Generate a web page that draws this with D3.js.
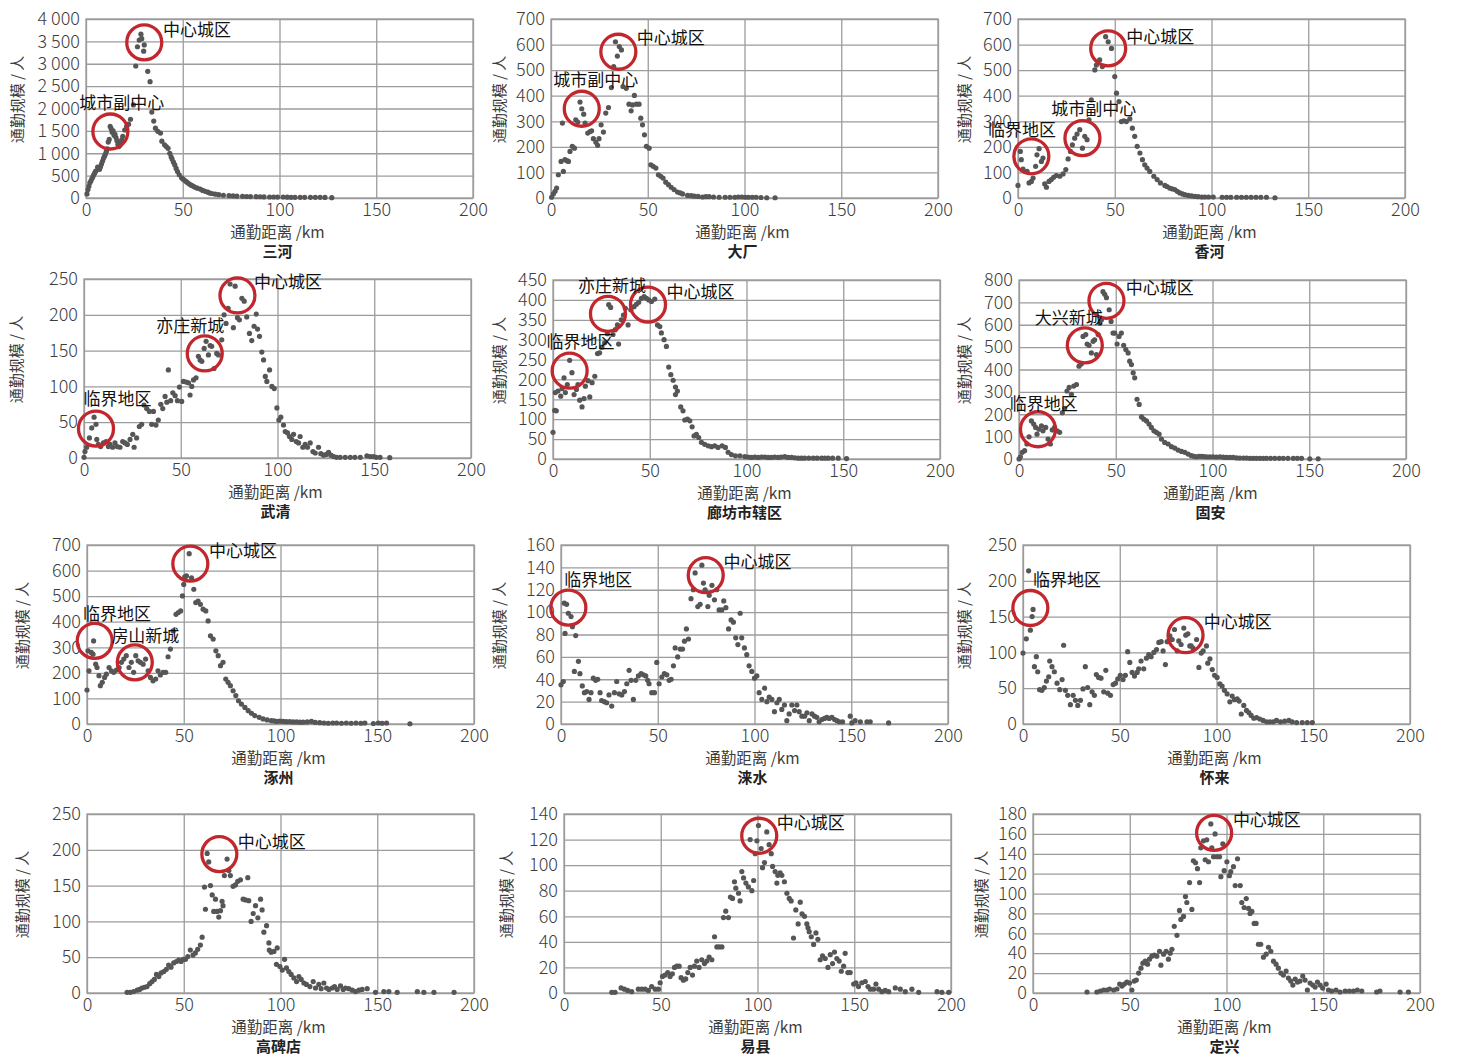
<!DOCTYPE html>
<html>
<head>
<meta charset="utf-8">
<script src="https://cdn.jsdelivr.net/npm/d3@7"></script>
<style>
body { margin: 0; background: #fff; }
svg text { font-family: "Noto Sans CJK SC", "Noto Sans", sans-serif; }
.tick line { stroke: #9c9c9c; stroke-width: 1.3; }
.tick text { font-size: 18px; fill: #3d3d3d; font-weight: 300; }
</style>
</head>
<body>
<svg id="chart" width="1457" height="1058"></svg>
<script>
// commute distance (km) vs commute size (persons), one array per district
const sanhe = [[0.5,90],[1,190],[1.5,260],[2,340],[2.5,380],[3,430],[3.5,470],[4,520],[4.5,560],[5,600],[6,690],[6.5,650],[7,640],[7.5,700],[8,760],[8.5,820],[9,880],[9.5,930],[10,980],[10.5,1040],[11,1100],[11.5,1250],[12,1310],[12.5,1600],[13,1550],[13.5,1470],[14,1500],[14.5,1400],[15,1420],[15.5,1350],[16,1280],[16.5,1200],[17,1150],[17.5,1180],[18,1250],[18.5,1300],[19,1380],[20,1520],[21,1600],[22,1650],[23,1760],[24.5,2080],[25.7,2950],[26.6,3380],[27.5,3530],[28.4,3660],[28.8,3560],[29.8,3280],[30.1,3420],[31.9,2830],[33.1,2600],[34,1920],[35,1720],[35.9,1560],[37.1,1490],[38.5,1450],[39.2,1270],[40.6,1190],[41.5,1150],[42.4,1110],[43.3,1000],[44,920],[44.5,870],[45.2,800],[45.9,740],[46.6,660],[47.3,590],[48.2,520],[49.4,450],[50.2,420],[51.1,390],[52,360],[52.9,330],[53.8,300],[54.6,280],[55.5,260],[56.4,240],[57.5,220],[59,200],[60.3,170],[61.6,150],[63,130],[64,110],[65.1,100],[66.8,85],[68.6,75],[71,62],[73.9,52],[76,46],[78,40],[80.9,37],[83,34],[85,32],[87.9,30],[90,28],[92,25],[94.9,22],[97,22],[99,20],[101.9,22],[104,18],[106,16],[108,15],[110.7,15],[113,14],[116,15],[118.5,14],[121,15],[123.5,12],[127,8]];
const dachang = [[0.3,3],[1.2,16],[2.1,26],[2.9,39],[3.8,91],[5.2,143],[5.9,293],[6.4,104],[7.2,150],[8.2,146],[9,143],[9.8,182],[11,202],[12.1,195],[12.8,306],[13.8,297],[15,375],[15.9,349],[16.9,328],[17.6,293],[19,254],[20.2,260],[21,263],[21.9,232],[23.2,218],[24.1,206],[24.8,232],[25.9,286],[27.1,258],[28.3,332],[29.7,354],[31.2,432],[32.4,514],[33.3,611],[34.3,555],[35.3,592],[36.4,579],[37.2,436],[38.9,429],[40.3,367],[41.4,341],[42.1,364],[43.1,401],[44.1,367],[45.5,367],[46.4,312],[47.3,286],[48.3,247],[49.3,202],[50.7,195],[51.6,130],[52.8,124],[54.2,117],[55.5,91],[56.7,85],[57.9,78],[59.3,62],[60.7,52],[62.1,42],[63.6,33],[65.4,23],[66.8,20],[68,16],[70.6,10],[72.5,9],[74,7],[76,6],[78.3,4],[80,5],[81.7,5],[84,4],[86.9,3],[90,3],[92.5,3],[95,3],[96.8,4],[98.6,4],[100.3,3],[102,3],[104,3],[106,3],[108.5,2],[111.5,1],[115.8,1]];
const xianghe = [[0,49],[1.2,182],[1.7,150],[2.6,113],[4.7,104],[5.7,59],[6.9,65],[7.8,78],[9.1,124],[9.8,169],[10.9,193],[12.1,143],[12.9,156],[13.8,55],[14.7,42],[16,65],[17.2,72],[18.4,81],[19.8,88],[21.6,85],[23.3,94],[24.7,111],[25.9,153],[27.1,182],[28.1,208],[29.3,234],[30.5,250],[31.9,267],[33.3,195],[34.5,241],[35.7,228],[36.7,306],[37.9,384],[39.7,501],[40.5,520],[42.2,540],[43.6,514],[45.3,631],[46.6,611],[48.3,585],[50,475],[50.9,410],[52.2,377],[53.4,299],[54.7,302],[56,299],[57.8,310],[59.1,273],[60.3,241],[61.6,202],[63,176],[64.3,150],[65.5,130],[66.7,117],[68.1,104],[70.2,85],[71.9,72],[73.6,59],[75.9,49],[77,45],[78.4,39],[79.6,36],[81,33],[82.3,26],[83.6,20],[85,16],[86.2,13],[88,10],[89.7,8],[91.5,6],[93.1,5],[95,4],[96.6,4],[98.5,4],[100.9,4],[105.5,3],[107.8,3],[110,3],[113,3],[115.5,3],[118,3],[120.5,3],[123,3],[125.5,3],[128.4,3],[132.8,1]];
const wuqing = [[0,1],[0.5,9],[1.4,15],[2.8,28],[4,42],[5.2,57],[6.2,47],[6.6,26],[7.4,19],[8.6,16],[10,21],[11.4,23],[12.6,16],[13.4,19],[14.8,15],[16,21],[17.2,16],[18.6,15],[20,23],[21.2,21],[22.4,19],[23.8,26],[25.2,33],[25.9,15],[27.2,28],[28.6,44],[29.8,47],[31,74],[32.4,69],[33.8,65],[35,47],[35.9,65],[37.2,46],[38.4,53],[39.7,75],[40.7,69],[41.9,86],[42.8,78],[43.6,123],[44.8,80],[45.9,91],[47.1,87],[48.3,80],[49.3,99],[50.5,79],[51.4,107],[52.8,106],[54,105],[54.8,88],[55.7,100],[56.6,109],[57.9,112],[59.1,142],[60,137],[60.9,135],[62.1,153],[63.1,163],[64.3,144],[65.2,157],[66,156],[67.2,125],[68.6,146],[69.5,144],[71.2,165],[72.4,200],[73.4,188],[74.5,209],[75.5,243],[77.2,182],[78.1,240],[79.3,196],[80.3,193],[81.6,223],[82.8,219],[84.1,197],[85.5,174],[86.7,164],[87.9,184],[89,201],[89.7,180],[90.7,170],[91.9,148],[92.8,137],[93.7,114],[94.5,107],[95.9,123],[97.1,100],[98.3,97],[99.7,70],[100.7,53],[101.7,57],[103.1,46],[104,37],[105.2,35],[106.2,30],[107.4,26],[108.3,33],[109.7,23],[110.9,21],[111.7,30],[113.1,15],[114.3,19],[115.5,15],[116.9,21],[118.3,9],[119.5,7],[121.2,15],[122.4,6],[123.8,4],[125.2,5],[126.4,8],[127.6,4],[129,2],[130.5,1],[132.4,1],[135,1],[137.6,1],[140,1],[142.8,1],[146.2,3],[148,2],[149.7,2],[151,1],[153,1],[158,0.5]];
const langfang = [[0,67],[0.9,122],[1.2,167],[1.7,121],[2.6,171],[4,158],[4.7,177],[5.7,204],[6.4,167],[7.4,187],[8.6,248],[9.8,217],[10.9,162],[12.1,175],[12.9,187],[13.8,148],[15,131],[16,152],[16.7,183],[18.1,197],[19,156],[20.2,192],[21.6,208],[23,265],[24.1,267],[25.3,281],[26.7,292],[28.1,315],[28.8,388],[29.8,381],[31,313],[32.2,325],[33.3,337],[33.9,289],[35.3,350],[36.4,362],[37.4,379],[38.8,337],[40.2,375],[41.9,383],[43.1,389],[44.3,394],[45.7,404],[47.1,408],[48.3,404],[49.5,400],[50.9,396],[52.6,402],[54,337],[55.2,333],[56,317],[57.4,300],[58.6,283],[59.8,231],[60.9,212],[62.1,198],[63.3,181],[63.3,162],[64.3,171],[66,131],[67.2,121],[68.1,98],[69.5,100],[70.7,96],[71.9,81],[72.9,58],[74.1,62],[75.3,54],[76.7,42],[78.4,37],[80.2,33],[81.9,31],[83.6,33],[85.3,29],[87.4,33],[89.1,29],[90.5,17],[92.2,11],[94.3,8],[96.6,8],[99.1,6],[100.8,5],[102.6,4],[104.3,5],[106,4],[107.8,5],[109.5,5],[111.2,4],[112.9,4],[114.6,5],[116.4,4],[118,5],[119.8,6],[121.5,4],[123.3,4],[125,3],[126.7,2],[128.4,2],[130,2],[132.2,2],[134.5,2],[136.5,2],[138.8,2],[140.5,2],[142.2,2],[144.5,2],[147.4,2],[151.7,1]];
const guan = [[0,0],[0.7,10],[1.7,30],[2.9,37],[4.1,67],[5.2,99],[6.4,170],[7.6,156],[8.6,141],[9.3,111],[10.3,133],[11.6,148],[12.4,126],[13.8,141],[15,89],[16.2,67],[17.2,130],[18.4,141],[19.7,126],[21,119],[22.4,207],[23.6,226],[24.8,304],[25.9,320],[27.1,289],[28.3,326],[29.7,333],[31,415],[32.2,425],[33.1,548],[34.5,556],[35.2,514],[36.2,508],[37.4,474],[38.3,526],[39.1,533],[40,467],[40.9,556],[41.7,607],[42.6,622],[43.4,748],[44.3,736],[45.2,721],[46.6,667],[47.6,615],[48.6,563],[49.5,563],[50.7,514],[51.7,548],[52.9,563],[54.1,508],[55.2,489],[56.4,474],[57.2,437],[58.1,422],[59,385],[59.8,363],[61,267],[62.1,244],[63.3,188],[64.5,178],[65.9,170],[67.2,156],[68.4,141],[69.7,126],[71,119],[72.4,111],[73.6,89],[75.3,74],[77.1,67],[78.8,55],[80.5,49],[82.2,40],[84,34],[85.7,30],[87.4,22],[89.1,15],[90.4,12],[91.7,10],[93,12],[94.3,12],[95.6,11],[96.9,10],[98.6,10],[100.3,10],[102,9],[103.8,10],[105.5,8],[107.2,7],[109,7],[110.7,7],[112.4,5],[114.1,4],[116,4],[117.6,4],[119.3,3],[121,3],[122.7,3],[124.5,3],[126.2,3],[127.9,3],[130,3],[132.2,3],[134.5,3],[136.6,3],[139,3],[141.7,3],[143.8,3],[146,3],[150.3,1],[154.6,1]];
const zhuozhou = [[0,133],[0.5,286],[1,208],[2.2,280],[3.1,273],[3.4,325],[4.5,234],[5.2,221],[6.2,189],[6.9,150],[7.9,163],[9.1,182],[10,195],[11.4,221],[12.6,208],[13.8,202],[15.2,211],[16.6,221],[17.8,241],[19,254],[20.3,267],[21.7,221],[22.9,241],[24.1,202],[25.2,267],[26.4,247],[27.6,241],[29,234],[30.3,254],[31.6,208],[32.8,182],[34.1,169],[35.5,176],[36.7,208],[37.9,192],[39.3,202],[40.7,202],[41.9,263],[43.1,293],[44.5,364],[46,429],[47.2,436],[48.4,442],[49.3,501],[50,546],[50.5,575],[51.4,579],[52.8,666],[54,572],[55.2,527],[56.2,475],[57.4,481],[58.6,468],[60,449],[61.4,442],[62.6,403],[63.8,345],[65.2,332],[66.6,286],[67.8,267],[69,228],[70.3,241],[71.7,176],[72.9,163],[74.1,150],[75.5,130],[76.9,111],[78.3,91],[79.8,78],[81.6,65],[83.3,52],[85,42],[86.7,33],[89,26],[91,20],[93.1,16],[95.3,13],[96.6,12],[98,10],[99.7,11],[101.4,10],[103,9],[104.8,9],[106.5,8],[108.3,8],[110,7],[111.7,7],[113.8,8],[116,10],[118,6],[120.3,5],[122.5,4],[124.7,3],[127,4],[129,4],[131.5,3],[134,4],[136.5,3],[139,4],[141.5,3],[143.6,4],[148,2],[150.5,4],[152.5,3],[154.8,4],[166.9,1]];
const laishui = [[0,35],[1.2,38],[1.7,108],[2.1,81],[2.9,107],[3.8,99],[5.2,96],[5.9,87],[6.9,47],[7.6,79],[9,56],[9.8,45],[11,34],[12.1,28],[13.3,29],[14.5,22],[15.5,28],[16.7,41],[17.9,39],[19,40],[20.2,28],[21,21],[22.4,20],[23.6,19],[24.8,26],[26.2,16],[27.6,28],[28.8,38],[30,27],[31.4,26],[32.8,29],[34,36],[35.2,48],[36.2,39],[37.4,22],[38.6,39],[40,43],[41.4,45],[42.6,44],[43.8,43],[44.8,39],[45.5,36],[46.9,28],[48.3,28],[49.5,55],[50.7,36],[52.1,42],[53.4,45],[54.7,44],[55.9,39],[56.9,40],[58.1,52],[59,68],[60.3,60],[61.6,67],[62.8,67],[63.8,74],[64.8,85],[65.9,76],[67.2,112],[68.4,120],[69.3,135],[70.7,105],[71.9,107],[72.8,142],[73.6,126],[74.5,120],[75.9,105],[76.6,115],[78,124],[79.3,111],[80.5,120],[81.7,102],[83.1,102],[84.1,110],[85.2,104],[86.6,85],[87.9,93],[89.1,91],[90.3,77],[91.4,71],[92.6,99],[93.4,77],[94.8,68],[96,62],[97.2,52],[98.6,47],[100,41],[101.2,43],[102.4,28],[103.8,22],[105.2,32],[106.4,20],[107.6,24],[109,22],[110.3,11],[111.6,19],[112.8,22],[114.1,13],[115.5,17],[116.7,3],[117.9,9],[119.3,17],[120.7,12],[121.9,17],[123.1,11],[124.5,7],[125.9,7],[127.1,10],[128.3,3],[129.7,9],[131,7],[132.2,6],[133.4,2],[134.8,4],[136.2,5],[137.4,6],[138.6,5],[140,6],[141.4,4],[142.6,3],[143.8,2],[145.5,2],[149.5,7],[150.3,1],[152,3],[154.7,2],[158.1,2],[159.8,2],[169.3,1]];
const huailai = [[0,99],[1.7,119],[2.9,214],[3.8,131],[4.7,150],[5.2,160],[5.9,80],[6.9,94],[7.6,73],[8.6,48],[9.8,47],[11,51],[12.1,60],[13.3,66],[13.8,88],[15,80],[16.2,73],[17.6,57],[19,48],[20.2,62],[21,110],[21.9,47],[23.1,40],[24.5,27],[25.9,40],[27.1,33],[28.3,26],[29.7,33],[31,49],[32.2,80],[33.4,51],[34.5,27],[35.7,45],[36.9,40],[37.9,69],[39.1,65],[40.3,64],[41.7,45],[42.8,75],[43.8,43],[45.2,40],[46.6,55],[47.8,57],[49,63],[50.3,68],[51.7,62],[52.9,68],[54.1,101],[55.2,86],[56.4,72],[57.6,67],[59,72],[59.8,77],[61,88],[62.4,77],[63.8,92],[65,97],[66.2,94],[67.6,100],[69,104],[70.2,114],[71.4,115],[72.4,102],[73.6,83],[74.5,115],[75.9,123],[77.1,118],[78.3,132],[79.7,102],[80.5,116],[81.7,111],[83.1,134],[84.1,124],[85.2,126],[86.2,109],[86.9,109],[87.9,106],[89.7,118],[90.9,79],[92.1,99],[93.1,102],[94.8,109],[95.5,85],[96.6,91],[97.8,76],[99,68],[100.3,65],[101.7,56],[102.9,53],[104.1,47],[105.5,42],[106.9,31],[108.1,39],[109.3,34],[110.7,35],[111.7,32],[112.8,14],[114.1,26],[115.5,19],[116.7,16],[117.9,12],[119.3,8],[120.7,9],[122.4,7],[124.1,5],[125.9,3],[127.6,3],[129.3,3],[131,5],[133.1,3],[135.2,4],[137.4,5],[139.1,3],[141.4,2],[144.3,2],[146.9,2],[149.5,2]];
const gaobeidian = [[20.7,1],[22.4,1],[24.1,2],[25.9,4],[27.2,5],[28.4,7],[29.7,8],[31,9],[32.4,13],[33.6,16],[34.8,19],[35.9,26],[37.1,23],[38.3,28],[39.7,30],[41,33],[42.2,39],[43.4,36],[44.8,42],[46.2,44],[47.4,46],[48.6,44],[49.7,47],[50.9,47],[52.1,51],[53.4,60],[54.8,53],[56,56],[57.2,61],[58.6,67],[59.5,78],[60.7,148],[61.2,117],[62.1,195],[62.9,183],[63.8,150],[64.7,137],[65.5,114],[66.4,131],[67.2,114],[68.1,106],[69,115],[69.8,128],[70.3,122],[71,164],[72.4,187],[73.3,171],[74.1,164],[75.5,149],[76.7,151],[77.9,156],[79.3,158],[80.7,131],[81.9,130],[83.1,161],[83.6,129],[84.8,100],[85.9,111],[87.1,122],[88.3,105],[89.7,131],[90.5,116],[91.4,85],[92.8,94],[94,70],[94.2,60],[95.2,57],[96.6,58],[97.9,40],[98.3,63],[99.7,37],[100.9,32],[102.1,47],[103.1,35],[104.3,30],[105.5,26],[106.9,21],[108.3,16],[109.5,23],[110.7,19],[112.1,14],[113.4,12],[115.2,9],[116.9,16],[118.1,7],[119.8,12],[121,6],[122.4,14],[123.8,7],[125,5],[126.7,7],[127.9,9],[129.3,5],[131,10],[132.4,5],[133.6,7],[135.3,6],[137.1,4],[138.8,2],[140.5,4],[142.2,5],[144.8,6],[149.1,1],[153.4,2],[156,2],[160.3,1],[170.7,2],[174.1,1],[179.3,1],[189.7,1]];
const yixian = [[24.7,0.5],[26.4,0.5],[29.5,4],[31.2,3],[32.9,2],[35,1],[38.4,3],[40.2,3],[41.9,3],[43.6,2],[45.3,5],[47.1,3],[48.8,3],[49.7,8],[50.9,13],[52.2,14],[53.6,16],[54.8,13],[56,15],[57.1,20],[58.3,21],[59.5,21],[60.5,12],[61.7,10],[62.9,11],[64,16],[65.2,20],[66.4,14],[67.4,21],[68.6,25],[69.8,20],[71.2,26],[72.6,23],[73.8,25],[75,28],[76.4,26],[77.8,44],[79,36],[80.2,36],[81.6,36],[82.4,59],[83.6,64],[85,59],[86,75],[87.1,74],[88.1,87],[88.8,82],[90.2,78],[91,72],[91.9,95],[92.8,90],[94,86],[95.3,83],[96.2,120],[97.1,80],[98,88],[98.8,109],[99.7,119],[100.5,131],[101.9,113],[102.6,98],[103.6,102],[104.8,126],[106,116],[107.1,109],[107.8,99],[109.1,95],[110,86],[110.5,92],[111.7,94],[112.6,92],[113.9,87],[115.2,78],[116.4,74],[117.4,72],[118.6,43],[119.8,65],[121,54],[122.1,71],[123,62],[124.3,60],[125.5,54],[126.1,51],[126.7,48],[127.8,44],[129,38],[130.2,47],[131.2,42],[132.4,26],[133.6,29],[135,27],[136.4,20],[137.6,30],[138.8,23],[139.8,32],[141,27],[142.2,25],[143.3,17],[144.5,21],[145.3,31],[146.7,16],[147.9,16],[149.7,7],[150.9,8],[152.2,5],[153.9,8],[155.7,9],[157.1,5],[158.3,3],[160,3],[161.2,7],[162.6,3],[164.3,1],[166,2],[167.8,1],[171.2,4],[173.8,3],[176.4,1],[179.8,3],[183.3,0.5],[192.8,1],[195.3,0.5],[198.8,0.5]];
const dingxing = [[27.9,1],[33,1],[34.8,2],[36.5,3],[38.2,3],[39.6,4],[41.7,3],[43.4,4],[44.8,9],[46,7],[47.2,9],[48.5,11],[49.9,10],[51.1,3],[52.3,12],[53.4,13],[54.6,20],[55.8,25],[56.8,30],[58,32],[59.2,29],[60.2,34],[61.4,37],[62.7,38],[64,37],[65.4,42],[66.1,28],[67.5,39],[68.8,42],[70,34],[70.9,40],[71.8,44],[73,67],[74.4,58],[75.7,83],[76.4,74],[77.8,77],[78.8,97],[79.5,91],[80.9,111],[82.1,84],[82.9,133],[84,131],[85,125],[86.1,111],[86.7,146],[88.1,153],[89,134],[89.8,154],[90.7,132],[91.9,170],[92.4,146],[93.3,137],[94.1,160],[95,137],[96.4,137],[97.1,117],[98.1,150],[98.8,123],[100.2,132],[101.5,118],[102.2,122],[103.6,127],[104.5,108],[105.7,135],[107.1,108],[107.9,91],[109.1,86],[110.2,95],[111.4,85],[112.2,80],[113.1,82],[114.3,70],[115.3,70],[116.5,49],[117.7,49],[119.1,36],[120.5,39],[121.7,46],[122.9,42],[124.3,32],[125.6,29],[126.8,25],[128.1,20],[129.4,18],[130.8,22],[132,15],[133.2,12],[134.3,8],[135.5,14],[136.7,11],[138,12],[139.4,17],[140.6,13],[141.8,3],[143.2,10],[144.6,8],[145.8,6],[147,11],[148.4,8],[149.7,5],[151.5,9],[152.7,3],[154.4,2],[156.6,3],[158.7,1],[161.3,2],[163.5,2],[165.6,2],[167.6,3],[169.9,2],[177.6,1],[179.3,2],[189.7,1],[194,1]];

// district names, y-axis maxima and steps
const titles = ['三河', '大厂', '香河', '武清', '廊坊市辖区', '固安', '涿州', '涞水', '怀来', '高碑店', '易县', '定兴'];
const yMaxes = [4000, 700, 700, 250, 450, 800, 700, 160, 250, 250, 140, 180];
const ySteps = [500, 100, 100, 50, 50, 100, 100, 20, 50, 50, 20, 20];
const xTicks = [0, 50, 100, 150, 200];

// annotations: [label, circle x, circle y, label x, label y] in data units
const sanheNotes = [['城市副中心', 12.6, 1486, -3.5, 2118], ['中心城区', 30.1, 3477, 39.8, 3752]];
const dachangNotes = [['城市副中心', 15.9, 349, 1.2, 462], ['中心城区', 34.8, 572, 44.3, 624]];
const xiangheNotes = [['临界地区', 6.9, 163, -15.5, 267], ['城市副中心', 33.3, 234, 17.2, 349], ['中心城区', 46.6, 585, 56, 631]];
const wuqingNotes = [['临界地区', 6.2, 41, -0.3, 83], ['亦庄新城', 62.4, 146, 37.4, 184], ['中心城区', 79.3, 227, 87.9, 246]];
const langfangNotes = [['临界地区', 8.6, 222, -3.4, 294], ['亦庄新城', 28.4, 365, 12.9, 436], ['中心城区', 49.1, 388, 58.6, 421]];
const guanNotes = [['临界地区', 9.8, 133, -4.8, 244], ['大兴新城', 34, 508, 8.1, 630], ['中心城区', 45.2, 707, 55.2, 766]];
const zhuozhouNotes = [['临界地区', 4, 325, -2.1, 430], ['房山新城', 24.7, 241, 12.6, 345], ['中心城区', 53.4, 627, 63.1, 677]];
const laishuiNotes = [['临界地区', 3.8, 104, 1.7, 129], ['中心城区', 74.8, 133, 84, 145]];
const huailaiNotes = [['临界地区', 3.8, 162, 5.2, 201], ['中心城区', 84, 124, 93.4, 142]];
const gaobeidianNotes = [['中心城区', 68.4, 194, 77.9, 211]];
const yixianNotes = [['中心城区', 100.9, 123, 110, 133]];
const dingxingNotes = [['中心城区', 93.6, 161, 103.3, 174]];

const series = [sanhe, dachang, xianghe, wuqing, langfang, guan, zhuozhou, laishui, huailai, gaobeidian, yixian, dingxing];
const notes = [sanheNotes, dachangNotes, xiangheNotes, wuqingNotes, langfangNotes, guanNotes, zhuozhouNotes, laishuiNotes, huailaiNotes, gaobeidianNotes, yixianNotes, dingxingNotes];

// plot-area placement (left, top) and y-title distance
const layout = [[86,19],[551,19],[1018,19],[84,279],[553,280],[1019,280],[87,545],[561,545],[1023,545],[87,814],[564,814],[1033,814]];
const yTitleGap = [68, 51, 53, 67, 53, 54, 64, 61, 58, 64, 57, 51];
const W = 387, H = 179;

const svg = d3.select('#chart');
const fmt = d3.formatLocale({decimal: '.', thousands: ' ', grouping: [3], currency: ['', '']}).format(',');

series.forEach((points, i) => {
	const [left, top] = layout[i];
	const g = svg.append('g').attr('transform', `translate(${left},${top})`);

	const x = d3.scaleLinear().domain([0, 200]).range([0, W]);
	const y = d3.scaleLinear().domain([0, yMaxes[i]]).range([H, 0]);

	// grid via axes
	g.append('g')
		.attr('transform', `translate(0,${H})`)
		.call(d3.axisBottom(x).tickValues(xTicks).tickSize(-H).tickPadding(5))
		.call(a => a.select('.domain').remove());

	g.append('g')
		.call(d3.axisLeft(y).tickValues(d3.range(0, yMaxes[i] + 1, ySteps[i])).tickSize(-W).tickPadding(6).tickFormat(fmt))
		.call(a => a.select('.domain').remove());

	g.append('rect')
		.attr('width', W)
		.attr('height', H)
		.attr('fill', 'none')
		.attr('stroke', '#9c9c9c')
		.attr('stroke-width', 1.3);

	g.selectAll('.dot')
		.data(points)
		.enter()
		.append('circle')
		.attr('class', 'dot')
		.attr('cx', d => x(d[0]))
		.attr('cy', d => y(d[1]))
		.attr('r', 2.6)
		.attr('fill', '#565656');

	g.selectAll('.ring')
		.data(notes[i])
		.enter()
		.append('circle')
		.attr('class', 'ring')
		.attr('cx', d => x(d[1]))
		.attr('cy', d => y(d[2]))
		.attr('r', 17.5)
		.attr('fill', 'none')
		.attr('stroke', '#c1272d')
		.attr('stroke-width', 3.3);

	g.selectAll('.note')
		.data(notes[i])
		.enter()
		.append('text')
		.attr('class', 'note')
		.attr('x', d => x(d[3]))
		.attr('y', d => y(d[4]))
		.attr('dy', '0.35em')
		.style('font-size', '17px')
		.style('fill', '#111')
		.text(d => d[0]);

	g.append('text')
		.attr('transform', `translate(${-yTitleGap[i]},${H / 2 - 9}) rotate(-90)`)
		.attr('text-anchor', 'middle')
		.attr('dy', '0.35em')
		.style('font-size', '15px')
		.style('fill', '#3d3d3d')
		.text('通勤规模 / 人');

	g.append('text')
		.attr('x', W / 2 - 2)
		.attr('y', H + 35)
		.attr('text-anchor', 'middle')
		.attr('dy', '0.35em')
		.style('font-size', '15.5px')
		.style('fill', '#3d3d3d')
		.text('通勤距离 /km');

	g.append('text')
		.attr('x', W / 2 - 2)
		.attr('y', H + 54)
		.attr('text-anchor', 'middle')
		.attr('dy', '0.35em')
		.style('font-size', '15px')
		.style('font-weight', 700)
		.style('fill', '#222')
		.text(titles[i]);
});
</script>
</body>
</html>
